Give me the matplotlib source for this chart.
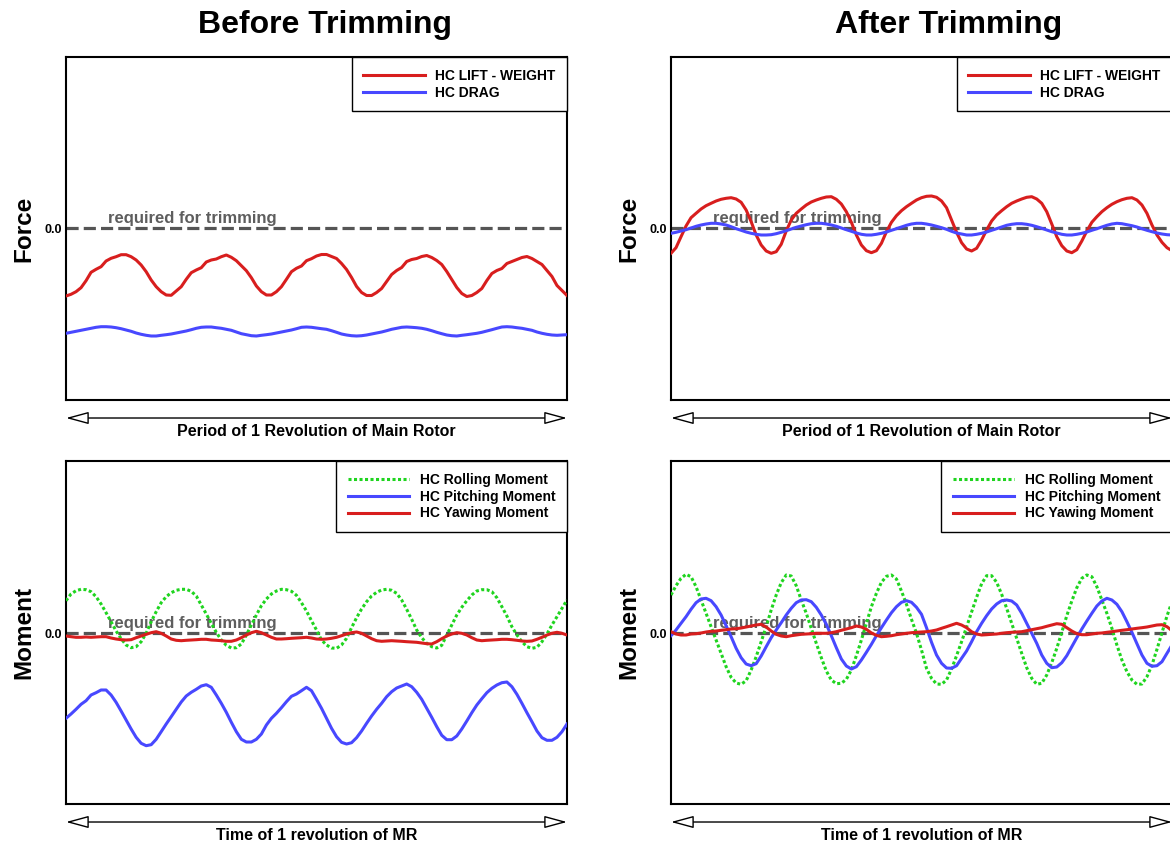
import numpy as np
import matplotlib
matplotlib.use("Agg")
import matplotlib.pyplot as plt

plt.rcParams['font.family'] = ['Liberation Sans', 'DejaVu Sans']
plt.rcParams['font.weight'] = 'bold'

# ---- data (arbitrary units; x = fraction of one revolution) ----
before_lift = [
    -67.5, -65.8, -63.2, -59.2, -52.2, -43.8, -40.8, -38.2, -32.5, -29.8,
    -28.2, -26.2, -26.2, -28.2, -31.5, -36.5, -43.2, -51.5, -58.2, -63.2,
    -66.5, -66.8, -62.5, -58.2, -50.8, -44.2, -41.5, -39.2, -33.5, -31.5,
    -30.5, -28.2, -26.5, -28.8, -32.2, -37.2, -42.2, -49.2, -57.5, -63.2,
    -66.5, -66.5, -63.2, -58.2, -50.8, -43.2, -39.8, -37.5, -32.2, -30.2,
    -27.5,
    -26, -26, -28, -30, -35, -41, -49, -58, -64, -67,
    -67, -64, -60, -53, -46, -42, -39, -33, -31, -30,
    -28, -27, -29, -32, -36, -43, -51, -59, -65, -68,
    -67, -64, -60, -52, -45, -42, -40, -35, -33, -31,
    -29, -28, -30, -33, -36, -42, -48, -57, -62, -67]

before_drag = [
    -104.8, -103.8, -102.8, -101.8, -100.8, -99.8, -98.8, -98.2, -98.2, -98.5,
    -99.2, -100.2, -101.5, -102.8, -104.5, -105.8, -106.8, -107.5, -107.5, -106.8,
    -106.2, -105.5, -104.5, -103.5, -102.5, -101.2, -99.8, -98.8, -98.5, -98.5,
    -99.2, -99.8, -100.8, -101.8, -103.5, -105.2, -106.2, -107.2, -107.5, -106.8,
    -106.2, -105.5, -104.5, -103.5, -102.5, -101.5, -100.2, -98.8, -98.5, -98.8,
    -99.5,
    -100.2, -100.8, -102.2, -103.8, -105.5, -106.5, -107.2, -107.5, -107.2, -106.5,
    -105.5, -104.5, -103.5, -102.2, -100.8, -99.8, -98.8, -98.5, -98.8, -99.2,
    -99.8, -100.8, -102.2, -103.8, -105.2, -106.5, -107.2, -107.5, -106.8, -106.2,
    -105.5, -104.8, -103.8, -102.5, -101.2, -99.8, -98.5, -98.2, -98.5, -99.2,
    -99.8, -100.8, -101.8, -103.5, -104.8, -105.8, -106.5, -106.8, -106.5, -106.2]

after_lift = [
    -24.8, -19.2, -8.2, 2.5, 10.8, 15.2, 19.5, 22.8, 25.2, 27.5,
    29.2, 30.2, 30.8, 29.5, 26.2, 18.5, 6.8, -6.5, -16.5, -22.5,
    -24.8, -23.2, -15.8, -2.5, 8.5, 15.2, 19.5, 23.5, 26.5, 28.5,
    30.2, 31.5, 31.8, 29.2, 24.5, 16.8, 6.2, -6.5, -16.5, -22.2,
    -24.2, -22.2, -14.8, -3.2, 6.2, 12.8, 17.8, 21.8, 25.2, 28.5,
    30.8,
    32.2, 32.5, 31.2, 27.5, 20.8, 8.5, -3.8, -14.2, -20.5, -22.5,
    -19.8, -11.5, -1.5, 7.5, 13.5, 17.8, 21.8, 25.2, 27.5, 29.5,
    31.2, 31.8, 29.5, 25.2, 16.8, 4.5, -8.2, -17.2, -22.5, -24.2,
    -21.2, -12.5, -2.5, 6.2, 11.8, 16.8, 20.8, 24.2, 26.8, 28.8,
    30.2, 30.8, 28.5, 23.5, 15.2, 3.5, -6.5, -13.8, -19.2, -22.2]

after_drag = [
    -4.8, -3.8, -2.5, -1.2, 0.5, 2.2, 3.5, 4.5, 5.2, 5.2,
    4.5, 3.5, 1.8, -0.2, -1.8, -3.5, -4.8, -5.8, -6.5, -6.5,
    -6.2, -5.2, -3.8, -2.2, -0.5, 1.2, 2.5, 3.8, 4.8, 5.2,
    5.2, 4.5, 3.5, 2.2, 0.5, -1.2, -2.8, -4.5, -5.8, -6.5,
    -6.5, -5.8, -4.8, -3.5, -1.8, -0.2, 1.5, 3.2, 4.5, 5.2,
    5.2,
    4.5, 3.5, 2.2, 0.8, -0.8, -2.8, -4.5, -5.5, -6.5, -6.5,
    -5.8, -4.8, -3.5, -1.8, -0.2, 1.5, 3.2, 4.2, 4.8, 4.8,
    4.2, 3.2, 1.8, 0.2, -1.5, -3.2, -4.5, -5.8, -6.5, -6.5,
    -5.8, -4.8, -3.5, -1.8, -0.2, 1.5, 3.2, 4.5, 5.2, 4.8,
    3.8, 2.8, 1.5, -0.2, -1.8, -3.2, -4.5, -5.5, -6.2, -6.5]

before_roll = [
    32.3, 39, 42.3, 43.7, 43.3, 41.3, 36.3, 29, 20.3, 11.3,
    2, -5.7, -12, -14.7, -13.7, -8.7, -0.3, 11.3, 21.3, 30.3,
    36.3, 40.3, 42.7, 43.7, 43.7, 41.7, 37, 28, 19, 9.7,
    0.7, -7, -12.3, -15, -14.7, -11, -2, 8, 18, 27.3,
    34, 39, 42, 43.7, 43.3, 41.7, 37.7, 30.3, 22, 12.3,
    3,
    -7, -12, -15, -15.3, -12, -5.3, 5.3, 15.3, 24, 31.3,
    37, 40.7, 43, 43.7, 42.7, 39.7, 33, 23.7, 13.7, 3,
    -4.7, -10.3, -13.7, -15, -12.3, -2, 8, 18, 25.7, 32.3,
    38, 42, 43.3, 43.3, 41.3, 35.3, 26.3, 17, 6.3, -2,
    -8.7, -13.7, -15.3, -14.3, -8.7, -1, 8, 16.3, 24.7, 33]

before_pitch = [
    -85.3, -81, -76.3, -71.3, -67.7, -62, -59.7, -57, -57, -62,
    -69.3, -78, -87, -96, -104.3, -110.3, -112.7, -111.7, -106.3, -98.7,
    -91, -83.7, -76.3, -69, -63, -59.3, -56.3, -53, -51.7, -54.3,
    -62, -70.3, -79.3, -89.3, -98.7, -106.3, -109, -109, -106.3, -101,
    -92, -85.3, -80.3, -74.7, -68.7, -63.3, -61, -57.7, -54.3, -57.7,
    -66.3,
    -75.3, -85.3, -95.3, -103.7, -109.3, -111, -109.7, -104.7, -98, -90.3,
    -83, -76.3, -70.3, -63.7, -58.7, -55, -53, -51, -53.7, -59.3,
    -66.3, -75.3, -84.3, -93.7, -102.3, -106.7, -106.7, -103, -96, -88,
    -79.7, -72, -65.7, -59.7, -55.3, -52, -49.7, -49, -53.7, -61.3,
    -70.3, -79.7, -88.7, -98, -104.7, -107.3, -107.3, -104.3, -98.7, -91]

before_yaw = [
    -3, -3.7, -4.3, -4.3, -4, -4.3, -4, -3.7, -3.7, -5,
    -6, -6.7, -7, -6.7, -4.7, -3, -1.3, 0.3, 1.3, -0.3,
    -3, -6, -7.3, -7.7, -7.3, -7, -6.7, -6.3, -6.3, -7,
    -7.3, -7.7, -8.3, -8.3, -7, -4.7, -2, 0.3, 1.7, 0.3,
    -2, -4.3, -6, -6, -5.7, -5.3, -5, -4.7, -4.3, -5,
    -6,
    -6.3, -6, -5.3, -4.3, -2.7, -1, 0.3, 1, -0.3, -3,
    -5.7, -7.7, -8.3, -8, -7.7, -8, -8.3, -8.7, -9, -9.3,
    -10, -10.7, -11, -8.7, -5.7, -3, -1, 0.3, -0.3, -2,
    -4.7, -7, -7.7, -7.3, -7, -6.7, -6.3, -6.3, -6.7, -7.3,
    -8, -8.3, -8, -6.3, -4.3, -2, -0.3, 0.7, -0.3, -2]

after_roll = [
    38, 47.3, 54.7, 58.7, 56.3, 46.3, 33, 19.7, 6.3, -7,
    -20.3, -33.7, -44.3, -50, -51.3, -47.7, -37, -23.7, -8.7, 6.3,
    23, 38, 50.3, 58, 57, 47.3, 33, 19.7, 4.7, -10.3,
    -24.7, -38, -47, -50.7, -50.3, -46.3, -37, -22.7, -7, 9.7,
    26.3, 39.7, 50.7, 56.7, 58, 54, 42, 28.7, 13.7, -0.3,
    -17,
    -35.3, -45.3, -51, -51.3, -47, -36, -22.7, -8.7, 6, 21,
    35.7, 49.3, 57.3, 57.3, 50.7, 38.7, 24.7, 9.7, -5.3, -20.3,
    -34.7, -45.3, -51.3, -50.3, -42, -29.7, -15.3, 0.7, 17.3, 32,
    45.3, 54.7, 58, 56.3, 46.3, 33, 19.7, 4.7, -12, -27,
    -38.7, -47, -51.3, -51, -43.7, -32, -16.3, 0.3, 17, 31.3]

after_pitch = [
    -2.7, 3, 9.7, 16.3, 23.7, 30.3, 34, 34.7, 32.3, 26.3,
    18, 7.3, -3.7, -15.3, -24.7, -31, -32.7, -30.7, -23, -13.7,
    -4.7, 3, 10.3, 18, 24.7, 30.3, 33, 33.3, 31.3, 25.7,
    18, 8.7, -2.7, -14.7, -26, -33, -36, -33.7, -27, -19.3,
    -11.3, -2.7, 5.3, 13, 20.3, 26.3, 30.7, 32.3, 30.7, 25.7,
    18.7,
    5.3, -9.3, -22, -30.3, -35, -35.3, -32.7, -25.3, -18, -8.7,
    1.3, 9.7, 17.3, 24, 29, 32.3, 33, 32, 28, 19.7,
    9.7, -0.3, -10.3, -22, -30.3, -34.7, -34, -29.7, -22.7, -13.7,
    -4.7, 4, 12, 19.7, 27, 32, 34.7, 33, 28.7, 21.3,
    11.3, 0.7, -10.7, -22, -30.3, -33.3, -32.7, -28.7, -20.3, -12]

after_yaw = [
    1.3, -1, -2, -2, -1, -0.7, 0, 1, 1.7, 2,
    2.7, 3.3, 4, 4.3, 5, 6, 7, 8, 8.7, 6,
    2, -1.3, -3, -3.7, -2.7, -2, -1.3, -1, -0.7, -0.3,
    -0.3, -0.3, 0.3, 1.3, 2.7, 4, 5.3, 7, 6, 3.7,
    0, -2.3, -3.7, -3.3, -2.7, -1.7, -1, -0.3, 0.3, 0.7,
    1,
    1.3, 2, 3, 4.7, 6.3, 8, 9.7, 8, 5.3, 1.3,
    -1, -2, -1.7, -1.3, -1, -0.3, 0.3, 0.7, 1, 1.3,
    2.3, 3.3, 4.3, 5.3, 6.7, 8, 9.3, 8.7, 5.3, 2,
    -0.7, -1.7, -1.7, -1, -0.3, 0, 0.7, 1.3, 2, 2.7,
    3.3, 4, 4.7, 5.3, 6, 7, 8, 8.3, 6.3, 2.3]

force_labels = ["HC LIFT - WEIGHT", "HC DRAG"]
moment_labels = ["HC Rolling Moment", "HC Pitching Moment", "HC Yawing Moment"]
titles = ["Before Trimming", "After Trimming"]

red = '#d81e1e'
blue = '#4848ff'
green = '#1fd41f'
gray = '#555555'

W, H = 1170.0, 846.0
fig = plt.figure(figsize=(W / 100, H / 100), dpi=100)


def make_axes(left, top):
    return fig.add_axes([left / W, 1 - (top + 343) / H, 501 / W, 343 / H])


def style(ax, ylim, ylabel, xlabel):
    ax.set_xlim(0, 1)
    ax.set_ylim(*ylim)
    ax.axhline(0, color=gray, lw=2.3, dashes=(3.8, 1.6), zorder=1)
    ax.text(0.084, 2, "required for trimming", color='#5e5e5e', fontsize=12,
            fontweight='bold', va='bottom', ha='left', zorder=1.5)
    ax.set_xticks([])
    ax.set_yticks([0])
    ax.set_yticklabels(["0.0"], fontsize=9, fontweight='bold')
    ax.tick_params(axis='y', length=0, pad=3)
    for s in ax.spines.values():
        s.set_linewidth(1.5)
    ax.set_ylabel(ylabel, fontsize=17.5, fontweight='bold')
    ax.yaxis.set_label_coords(-0.062, 0.5)
    ax.annotate('', xy=(0, -0.0525), xytext=(1, -0.0525), xycoords='axes fraction',
                arrowprops=dict(arrowstyle='<|-|>,head_length=1.4,head_width=0.38',
                                fc='white', ec='black', lw=1.0, mutation_scale=10,
                                shrinkA=0, shrinkB=0),
                annotation_clip=False)
    ax.text(0.5, -0.0904, xlabel, transform=ax.transAxes, ha='center', va='center',
            fontsize=11.5, fontweight='bold')


def add_legend(ax):
    leg = ax.legend(loc='upper right', bbox_to_anchor=(1, 1), borderaxespad=0,
                    fancybox=False, framealpha=1, edgecolor='black',
                    prop={'size': 10, 'weight': 'bold'}, handlelength=4.4,
                    handletextpad=0.75, borderpad=0.85, labelspacing=0.2)
    leg.get_frame().set_linewidth(1.0)
    leg.set_zorder(5)


lefts = [66, 671]
force_sets = [(before_lift, before_drag), (after_lift, after_drag)]
moment_sets = [(before_roll, before_pitch, before_yaw), (after_roll, after_pitch, after_yaw)]

for col in range(2):
    # forces
    ax = make_axes(lefts[col], 57)
    lift, drag = force_sets[col]
    ax.plot(np.linspace(0, 1, len(lift)), lift, color=red, lw=2.2, label=force_labels[0], zorder=3)
    ax.plot(np.linspace(0, 1, len(drag)), drag, color=blue, lw=2.2, label=force_labels[1], zorder=3)
    style(ax, (-171.5, 171.5), "Force", "Period of 1 Revolution of Main Rotor")
    add_legend(ax)

    # moments
    ax = make_axes(lefts[col], 461)
    roll, pitch, yaw = moment_sets[col]
    ax.plot(np.linspace(0, 1, len(roll)), roll, color=green, lw=2.2, dashes=(1, 0.8),
            label=moment_labels[0], zorder=3)
    ax.plot(np.linspace(0, 1, len(pitch)), pitch, color=blue, lw=2.2,
            label=moment_labels[1], zorder=3)
    ax.plot(np.linspace(0, 1, len(yaw)), yaw, color=red, lw=2.2,
            label=moment_labels[2], zorder=3)
    style(ax, (-171, 172), "Moment", "Time of 1 revolution of MR")
    add_legend(ax)

fig.text(325 / W, 1 - 25 / H, titles[0], ha='center', va='center', fontsize=23, fontweight='bold')
fig.text(949 / W, 1 - 25 / H, titles[1], ha='center', va='center', fontsize=23, fontweight='bold')

fig.savefig("out.png", dpi=100)
